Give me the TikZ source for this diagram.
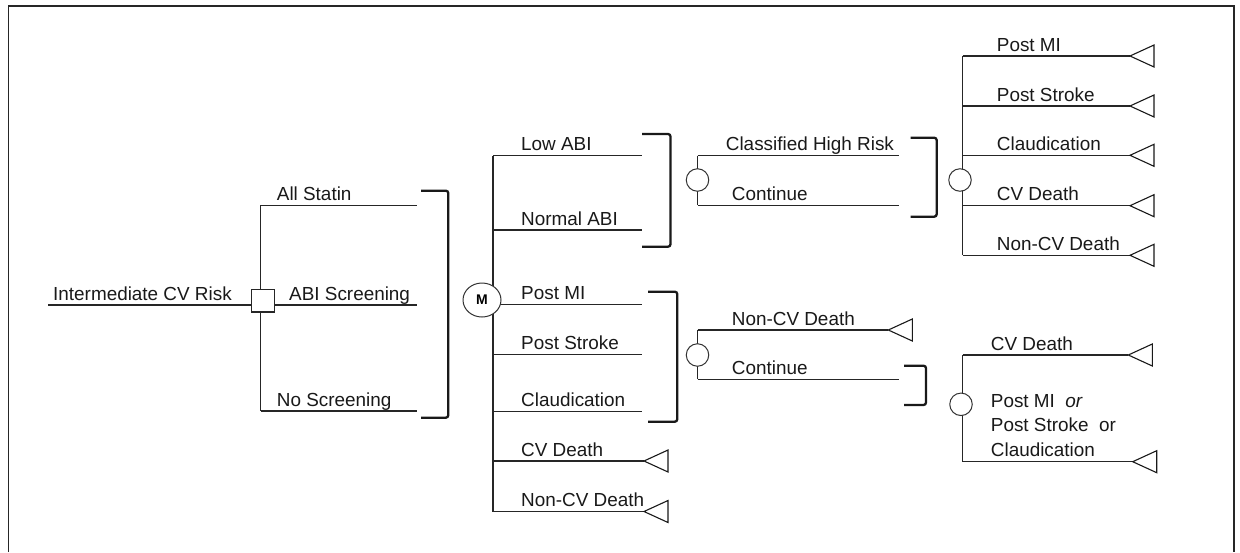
\documentclass[tikz,border=0pt]{standalone}
\usepackage{fontspec}
\setmainfont{Liberation Sans}
\usetikzlibrary{shapes.geometric}
\tikzset{
  ln/.style={line width=1.2pt, draw=black!85},
  brk/.style={line width=2.3pt, draw=black!90, rounded corners=2.5pt},
  lbl/.style={anchor=base west, inner sep=0pt, text=black!90, font=\fontsize{18.9}{22}\selectfont},
  chance/.style={circle, draw=black!80, line width=1pt, fill=white, minimum size=22.5pt, inner sep=0pt},
  decision/.style={rectangle, draw=black!85, line width=1.2pt, fill=white, minimum size=22.5pt, inner sep=0pt},
  markov/.style={ellipse, draw=black!80, line width=1pt, fill=white, minimum width=38pt, minimum height=34pt, inner sep=0pt, font=\bfseries\fontsize{14}{16}\selectfont},
  termtri/.style={line width=1.1pt, draw=black!90, fill=white},
}
\newcommand{\termat}[1]{\draw[termtri] (#1) -- ++(24,-11) -- ++(0,22) -- cycle;}
\begin{document}
\begin{tikzpicture}[x=1pt,y=-1pt]
\useasboundingbox (0,0) rectangle (1240,552);
% frame
\draw[line width=1.3pt, draw=black!85] (8.5,552) -- (8.5,6) -- (1234,6) -- (1234,552);

% ---------- root and decision ----------
\coordinate (root) at (48,305);
\coordinate (dTop) at (260.7,205.3);
\coordinate (dBot) at (260.7,411);
\coordinate (eStatin) at (416.7,205.3);
\coordinate (eABI) at (416.7,305);
\coordinate (eNo) at (416.7,411);
\draw[ln] (dTop) -- (dBot);
\draw[ln] (dTop) -- (eStatin);
\draw[ln] (dBot) -- (eNo);
\node[decision] (dec) at (263,300.7) {};
\draw[ln] (root) -- (root -| dec.west);
\draw[ln] (dec.east |- eABI) -- (eABI);
\node[lbl] (lRoot) at (53,300) {Intermediate CV Risk};
\node[lbl] (lStatin) at (276.7,200.3) {All Statin};
\node[lbl] (lABI) at (289,300) {ABI Screening};
\node[lbl] (lNo) at (276.7,406) {No Screening};
\draw[brk] (421,190.7) -- (448.3,190.7) -- (448.3,417.7) -- (421,417.7);

% ---------- Markov node ----------
\coordinate (mTop) at (493,155.7);
\coordinate (mBot) at (493,511.5);
\draw[ln] (mTop) -- (mBot);
\coordinate (eLow) at (642,155.7);
\coordinate (eNorm) at (642,230);
\coordinate (ePMI) at (642,304.7);
\coordinate (ePS) at (642,354.7);
\coordinate (eCl) at (642,411.7);
\coordinate (tCV) at (644,461);
\coordinate (tNCV) at (644,511.5);
\draw[ln] (mTop) -- (eLow);
\draw[ln] (eNorm -| mTop) -- (eNorm);
\draw[ln] (ePMI -| mTop) -- (ePMI);
\draw[ln] (ePS -| mTop) -- (ePS);
\draw[ln] (eCl -| mTop) -- (eCl);
\draw[ln] (tCV -| mTop) -- (tCV);
\draw[ln] (mBot) -- (tNCV);
\termat{tCV}
\termat{tNCV}
\node[markov] (M) at (482,300) {M};
\node[lbl] at (521,150.7) {Low ABI};
\node[lbl] at (521,225) {Normal ABI};
\node[lbl] at (521,299.7) {Post MI};
\node[lbl] at (521,349.7) {Post Stroke};
\node[lbl] at (521,406.7) {Claudication};
\node[lbl] at (521,456) {CV Death};
\node[lbl] at (521,506.5) {Non-CV Death};
\draw[brk] (642,134) -- (670.5,134) -- (670.5,246.7) -- (642,246.7);
\draw[brk] (648,291.7) -- (677.3,291.7) -- (677.3,421.7) -- (648,421.7);

% ---------- chance node 1 ----------
\coordinate (c1Top) at (697.5,155.7);
\coordinate (c1Bot) at (697.5,205.3);
\draw[ln] (c1Top) -- (c1Bot);
\coordinate (eCHR) at (898.7,155.7);
\coordinate (eCont1) at (898.7,205.3);
\draw[ln] (c1Top) -- (eCHR);
\draw[ln] (c1Bot) -- (eCont1);
\node[chance] (c1) at (697.5,180) {};
\node[lbl] at (725.7,150.7) {Classified High Risk};
\node[lbl] at (731.7,200.3) {Continue};
\draw[brk] (910.7,137.7) -- (936.7,137.7) -- (936.7,216.7) -- (910.7,216.7);

% ---------- chance node 2 ----------
\coordinate (c2Top) at (697.5,330);
\coordinate (c2Bot) at (697.5,379.3);
\draw[ln] (c2Top) -- (c2Bot);
\coordinate (tNCV2) at (888.3,330);
\coordinate (eCont2) at (898.7,379.3);
\draw[ln] (c2Top) -- (tNCV2);
\draw[ln] (c2Bot) -- (eCont2);
\termat{tNCV2}
\node[chance] (c2) at (697.5,355) {};
\node[lbl] at (731.7,325) {Non-CV Death};
\node[lbl] at (731.7,374.3) {Continue};
\draw[brk] (904,365.7) -- (926,365.7) -- (926,405) -- (904,405);

% ---------- chance node 3 ----------
\coordinate (c3Top) at (962.5,56);
\coordinate (c3Bot) at (962.5,255.3);
\draw[ln] (c3Top) -- (c3Bot);
\coordinate (t3a) at (1130,56);
\coordinate (t3b) at (1130,106);
\coordinate (t3c) at (1130,155.3);
\coordinate (t3d) at (1130,205.7);
\coordinate (t3e) at (1130,255.3);
\draw[ln] (c3Top) -- (t3a);
\draw[ln] (t3b -| c3Top) -- (t3b);
\draw[ln] (t3c -| c3Top) -- (t3c);
\draw[ln] (t3d -| c3Top) -- (t3d);
\draw[ln] (c3Bot) -- (t3e);
\termat{t3a}
\termat{t3b}
\termat{t3c}
\termat{t3d}
\termat{t3e}
\node[chance] (c3) at (960,180) {};
\node[lbl] at (996.7,51) {Post MI};
\node[lbl] at (996.7,101) {Post Stroke};
\node[lbl] at (996.7,150.3) {Claudication};
\node[lbl] at (996.7,200.7) {CV Death};
\node[lbl] at (996.7,250.3) {Non-CV Death};

% ---------- chance node 4 ----------
\coordinate (c4Top) at (962.5,355);
\coordinate (c4Bot) at (962.5,461.7);
\draw[ln] (c4Top) -- (c4Bot);
\coordinate (t4a) at (1128.3,355);
\coordinate (t4b) at (1132.7,461.7);
\draw[ln] (c4Top) -- (t4a);
\draw[ln] (c4Bot) -- (t4b);
\termat{t4a}
\termat{t4b}
\node[chance] (c4) at (961,404.3) {};
\node[lbl] at (990.7,350) {CV Death};
\node[lbl] at (990.7,407) {Post MI\ \ \textit{or}};
\node[lbl] at (990.7,431.7) {Post Stroke\ \ or};
\node[lbl] at (990.7,456) {Claudication};
\end{tikzpicture}
\end{document}
